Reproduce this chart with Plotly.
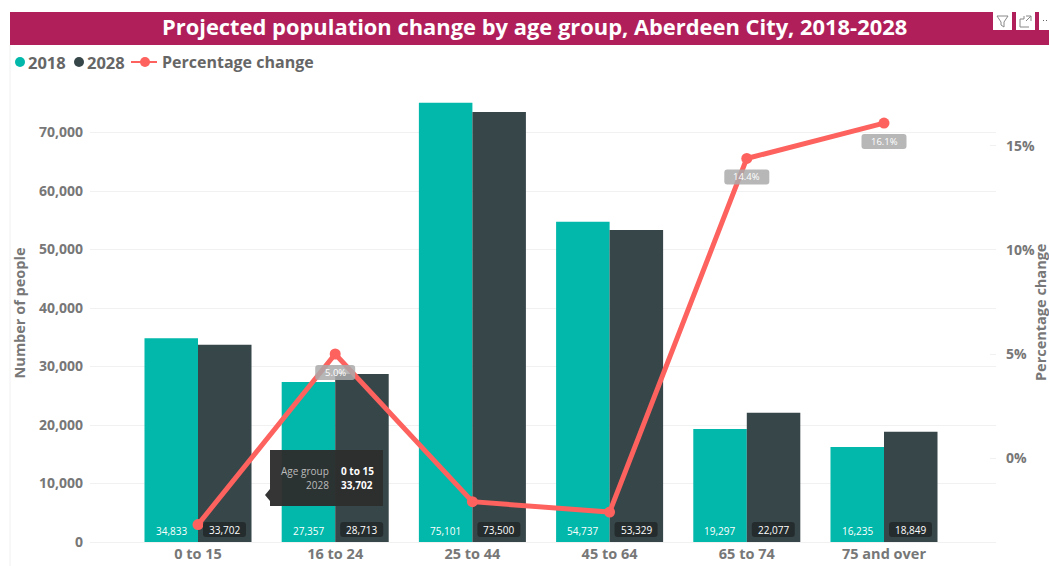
import plotly.graph_objects as go

categories = ["0 to 15", "16 to 24", "25 to 44", "45 to 64", "65 to 74", "75 and over"]
values_2018 = [34833, 27357, 75101, 54737, 19297, 16235]
values_2028 = [33702, 28713, 73500, 53329, 22077, 18849]
pct_change = [-3.2, 5.0, -2.1, -2.6, 14.4, 16.1]
pct_labels = {1: "5.0%", 4: "14.4%", 5: "16.1%"}
left_ticks = [0, 10000, 20000, 30000, 40000, 50000, 60000, 70000]
right_ticks = [0, 5, 10, 15]
right_tick_labels = ["0%", "5%", "10%", "15%"]

W, H = 1049, 566
L, R, T, B = 90, 996, 84, 542
FONT = "Open Sans"
GREY = "#777777"
TEAL, DARK, RED = "#01B8AA", "#374649", "#FD625E"
BANNER = "#B01F5A"


def px(x):
    return (x - L) / (R - L)


def py(y):
    return (B - y) / (B - T)


def rrect(x0, y0, x1, y1, r):
    return (f"M{x0+r},{y0} L{x1-r},{y0} Q{x1},{y0} {x1},{y0+r} L{x1},{y1-r} Q{x1},{y1} {x1-r},{y1} "
            f"L{x0+r},{y1} Q{x0},{y1} {x0},{y1-r} L{x0},{y0+r} Q{x0},{y0} {x0+r},{y0} Z")


def page_rect(x0, y0, x1, y1, fill, line=None, width=0, opacity=1):
    return dict(type="rect", xref="paper", yref="paper", x0=px(x0), x1=px(x1), y0=py(y0), y1=py(y1),
                fillcolor=fill, opacity=opacity, line=dict(color=line or fill, width=width), layer="above")


def page_line(x0, y0, x1, y1, color, width=1):
    return dict(type="line", xref="paper", yref="paper", x0=px(x0), x1=px(x1), y0=py(y0), y1=py(y1),
                line=dict(color=color, width=width), layer="above")


def page_text(x, y, text, size, color, bold=False, xanchor="center"):
    t = f"<b>{text}</b>" if bold else text
    return dict(xref="paper", yref="paper", x=px(x), y=py(y), text=t, showarrow=False, xanchor=xanchor,
                yanchor="middle", font=dict(family=FONT, size=size, color=color))


fig = go.Figure()
fig.add_bar(x=categories, y=values_2018, name="2018", marker_color=TEAL, marker_line_width=0, showlegend=False)
fig.add_bar(x=categories, y=values_2028, name="2028", marker_color=DARK, marker_line_width=0, showlegend=False)
fig.add_scatter(x=categories, y=pct_change, name="Percentage change", mode="lines+markers", yaxis="y2",
                line=dict(color=RED, width=5), marker=dict(color=RED, size=11), showlegend=False)

shapes = []
annotations = []

# page furniture
shapes.append(page_line(10, 45, 10, 566, "#f0f0f0"))
shapes.append(page_rect(10, 12, 1049, 45, BANNER))
annotations.append(page_text(534.5, 27, "Projected population change by age group, Aberdeen City, 2018-2028", 21.9, "white", True))

# header icons
shapes.append(page_rect(993, 12, 1012, 30, "white"))
shapes.append(page_rect(1016, 12, 1035, 30, "white"))
shapes.append(page_rect(1039, 12, 1049, 30, "white"))
shapes.append(dict(type="path", xref="paper", yref="paper", layer="above", line=dict(color="#888888", width=1),
                   path=f"M{px(997)},{py(16)} L{px(1008)},{py(16)} L{px(1004)},{py(22)} L{px(1004)},{py(27)} L{px(1001)},{py(25)} L{px(1001)},{py(22)} Z",
                   fillcolor="white"))
shapes.append(dict(type="path", xref="paper", yref="paper", layer="above", line=dict(color="#888888", width=1),
                   path=(f"M{px(1020)},{py(19)} L{px(1020)},{py(27)} L{px(1029)},{py(27)} "
                         f"M{px(1020)},{py(19)} L{px(1024)},{py(19)} L{px(1024)},{py(16)} "
                         f"M{px(1026)},{py(16)} L{px(1031)},{py(16)} L{px(1031)},{py(21)} M{px(1031)},{py(16)} L{px(1026)},{py(21)}")))
for dot in (1043, 1046):
    shapes.append(page_rect(dot, 20, dot + 1, 21, "#666666"))

# legend
shapes.append(dict(type="circle", xref="paper", yref="paper", x0=px(15), x1=px(25), y0=py(57), y1=py(67),
                   fillcolor=TEAL, line_width=0, layer="above"))
shapes.append(dict(type="circle", xref="paper", yref="paper", x0=px(74), x1=px(84), y0=py(57), y1=py(67),
                   fillcolor=DARK, line_width=0, layer="above"))
shapes.append(page_line(131, 62, 157, 62, RED, 2))
shapes.append(dict(type="circle", xref="paper", yref="paper", x0=px(140), x1=px(150), y0=py(57), y1=py(67),
                   fillcolor=RED, line_width=0, layer="above"))
annotations.append(page_text(26, 62, "2018", 16.5, "#666666", True, "left"))
annotations.append(page_text(85, 62, "2028", 16.5, "#666666", True, "left"))
annotations.append(page_text(160, 62, "Percentage change", 16, "#666666", True, "left"))

# right axis title, kept just inside the page edge
right_title = page_text(1040, 313, "Percentage change", 14.5, GREY, True)
right_title["textangle"] = -90
annotations.append(right_title)

# data labels along the base of the bars
for cat, v18, v28 in zip(categories, values_2018, values_2028):
    shapes.append(dict(type="path", xref="x", yref="y", xsizemode="pixel", ysizemode="pixel",
                       xanchor=cat, yanchor=0, layer="above", fillcolor="#252C2E", line_width=0,
                       path=rrect(5, 5, 48, 20, 3)))
    annotations.append(dict(x=cat, y=0, xref="x", yref="y", xshift=-27, yshift=11, text=f"{v18:,}",
                            showarrow=False, font=dict(family=FONT, size=10, color="white")))
    annotations.append(dict(x=cat, y=0, xref="x", yref="y", xshift=26.5, yshift=12, text=f"{v28:,}",
                            showarrow=False, font=dict(family=FONT, size=10, color="white")))

# percentage labels
for i, text in pct_labels.items():
    half = 20 if i == 1 else 22.5
    shapes.append(dict(type="path", xref="x", yref="y2", xsizemode="pixel", ysizemode="pixel",
                       xanchor=categories[i], yanchor=pct_change[i], layer="above",
                       fillcolor="rgba(170,170,170,0.85)", line_width=0,
                       path=rrect(-half, -26, half, -11, 3)))
    annotations.append(dict(x=categories[i], y=pct_change[i], xref="x", yref="y2", yshift=-18.5, text=text,
                            showarrow=False, font=dict(family=FONT, size=9.5, color="white")))

# tooltip
shapes.append(dict(type="path", xref="paper", yref="paper", layer="above", fillcolor="rgba(45,45,45,0.96)", line_width=0,
                   path=(f"M{px(270)},{py(450)} L{px(383)},{py(450)} L{px(383)},{py(506)} L{px(270)},{py(506)} "
                         f"L{px(270)},{py(501)} L{px(265)},{py(495)} L{px(270)},{py(489)} Z")))
annotations.append(page_text(331, 471, "Age group", 10, "#BBBBBB", False, "right"))
annotations.append(page_text(331, 485, "2028", 10, "#BBBBBB", False, "right"))
annotations.append(page_text(339, 471, categories[0], 10, "white", True, "left"))
annotations.append(page_text(339, 485, f"{values_2028[0]:,}", 10, "white", True, "left"))

x_font = dict(family=FONT, size=14.5, color=GREY, weight=700)
y_font = dict(family=FONT, size=14, color=GREY, weight=700)
fig.update_layout(
    width=W, height=H, autosize=False,
    margin=dict(l=L, r=W - R, t=T, b=H - B, pad=0),
    paper_bgcolor="white", plot_bgcolor="white",
    barmode="group", bargap=0.22, bargroupgap=0,
    font=dict(family=FONT, color=GREY),
    xaxis=dict(range=[(L - 198) / 137.2, (R - 198) / 137.2], type="category", categoryorder="array",
               categoryarray=categories, showgrid=False, zeroline=False, showline=False, ticks="",
               tickfont=x_font, ticklabelstandoff=1, automargin=False),
    yaxis=dict(range=[0, 78291], tickvals=left_ticks, tickformat=",", gridcolor="#F1F1F1", gridwidth=1,
               zeroline=True, zerolinecolor="#F1F1F1", zerolinewidth=1, showline=False, ticks="",
               tickfont=y_font, ticklabelstandoff=6, automargin=False,
               title=dict(text="<b>Number of people</b>", font=dict(family=FONT, size=14.5, color=GREY), standoff=9)),
    yaxis2=dict(range=[-4.038, 17.98], tickmode="array", tickvals=right_ticks, ticktext=right_tick_labels,
                overlaying="y", side="right",
                showgrid=False, zeroline=False, showline=False, ticks="inside", ticklen=6, tickcolor="#F1F1F1",
                tickfont=y_font, ticklabelstandoff=9, automargin=False),
    shapes=shapes,
    annotations=annotations,
)
fig.write_html("out.html", config=dict(displayModeBar=False),
               post_script="document.body.style.margin='0';document.body.style.overflow='hidden';")
